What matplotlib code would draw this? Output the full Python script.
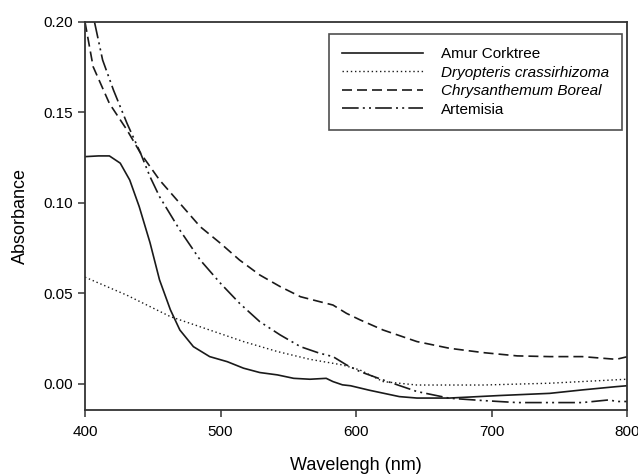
import matplotlib
matplotlib.use("Agg")
import matplotlib.pyplot as plt

plt.rcParams['font.family'] = ['Liberation Sans', 'DejaVu Sans']

# Amur Corktree (solid)
amur_x = [400, 410, 418, 426, 433, 440, 448, 455, 463, 470, 480, 492, 505, 517, 529,
          542, 554, 566, 578, 583, 590, 596, 610, 632, 645, 669, 706, 743, 767, 792, 800]
amur_y = [0.1256, 0.1260, 0.1260, 0.1220, 0.1127, 0.0980, 0.0780, 0.0575, 0.0410, 0.0298,
          0.0206, 0.0151, 0.0123, 0.0087, 0.0063, 0.0050, 0.0031, 0.0026, 0.0031, 0.0013,
          -0.0005, -0.0010, -0.0035, -0.0070, -0.0078, -0.0078, -0.0064, -0.0052, -0.0033,
          -0.0015, -0.0010]

# Dryopteris crassirhizoma (dotted)
dryo_x = [400, 431, 463, 492, 517, 542, 566, 590, 603, 620, 645, 694, 743, 800]
dryo_y = [0.0590, 0.0490, 0.0372, 0.0298, 0.0234, 0.0179, 0.0136, 0.0105, 0.0077,
          0.0013, -0.0006, -0.0006, 0.0004, 0.0026]

# Chrysanthemum Boreal (dashed)
chry_x = [400, 406, 418, 431, 441, 455, 470, 485, 500, 514, 529, 544, 559, 573, 583,
          593, 603, 620, 645, 669, 694, 719, 743, 767, 792, 800]
chry_y = [0.2000, 0.1753, 0.1550, 0.1403, 0.1275, 0.1127, 0.0998, 0.0869, 0.0777, 0.0685,
          0.0602, 0.0538, 0.0482, 0.0455, 0.0436, 0.0390, 0.0354, 0.0298, 0.0234, 0.0197,
          0.0173, 0.0155, 0.0151, 0.0151, 0.0136, 0.0150]

# Artemisia (dash-dot-dot)
arte_x = [407, 413, 421, 431, 441, 448, 455, 470, 485, 500, 514, 529, 544, 559, 573,
          583, 593, 603, 620, 645, 669, 694, 719, 743, 767, 787, 792, 800]
arte_y = [0.2000, 0.1790, 0.1624, 0.1440, 0.1275, 0.1145, 0.1035, 0.0850, 0.0685, 0.0556,
          0.0446, 0.0344, 0.0271, 0.0206, 0.0170, 0.0151, 0.0105, 0.0068, 0.0022, -0.0042,
          -0.0079, -0.0092, -0.0103, -0.0103, -0.0103, -0.0088, -0.0097, -0.0097]

labels = ['Amur Corktree', 'Dryopteris crassirhizoma', 'Chrysanthemum Boreal', 'Artemisia']
x_ticks = [400, 500, 600, 700, 800]
y_ticks = [0.00, 0.05, 0.10, 0.15, 0.20]

fig = plt.figure(figsize=(6.38, 4.74), dpi=100)
ax = fig.add_axes([85 / 638, 1 - 410 / 474, (627 - 85) / 638, (410 - 22) / 474])

lc = '#1a1a1a'
lw = 1.2
ax.plot(amur_x, amur_y, color=lc, lw=lw, ls='-', label=labels[0])
ax.plot(dryo_x, dryo_y, color=lc, lw=1.0, ls=(0, (1, 2)), label=labels[1])
ax.plot(chry_x, chry_y, color=lc, lw=lw, ls=(0, (6, 3)), label=labels[2])
ax.plot(arte_x, arte_y, color=lc, lw=lw, ls=(0, (10, 2.5, 1.2, 2.5, 1.2, 2.5)), label=labels[3])

ax.set_xlim(400, 800)
ax.set_ylim(-0.0144, 0.20)
ax.set_xticks(x_ticks)
ax.set_yticks(y_ticks)
ax.set_yticklabels([f'{v:.2f}' for v in y_ticks])
ax.tick_params(axis='x', pad=6)
ax.tick_params(direction='out', length=5, width=1.1, color='#333333', labelsize=11,
               top=False, right=False)
ax.tick_params(axis='y', pad=4)
for s in ax.spines.values():
    s.set_linewidth(1.3)
    s.set_color('#333333')

ax.set_xlabel('Wavelengh (nm)', fontsize=13, labelpad=13)
ax.set_ylabel('Absorbance', fontsize=13, labelpad=10)

leg = ax.legend(loc='upper right', bbox_to_anchor=(622 / 638, 1 - 34 / 474),
                bbox_transform=fig.transFigure, fontsize=11, frameon=True, fancybox=False,
                borderpad=0.85, handlelength=5.3, handletextpad=1.2, labelspacing=0.3,
                borderaxespad=0)
leg.get_frame().set_edgecolor('#222222')
leg.get_frame().set_linewidth(1.2)
for i, t in enumerate(leg.get_texts()):
    if i in (1, 2):
        t.set_fontstyle('italic')

fig.savefig('out.png', dpi=100)
